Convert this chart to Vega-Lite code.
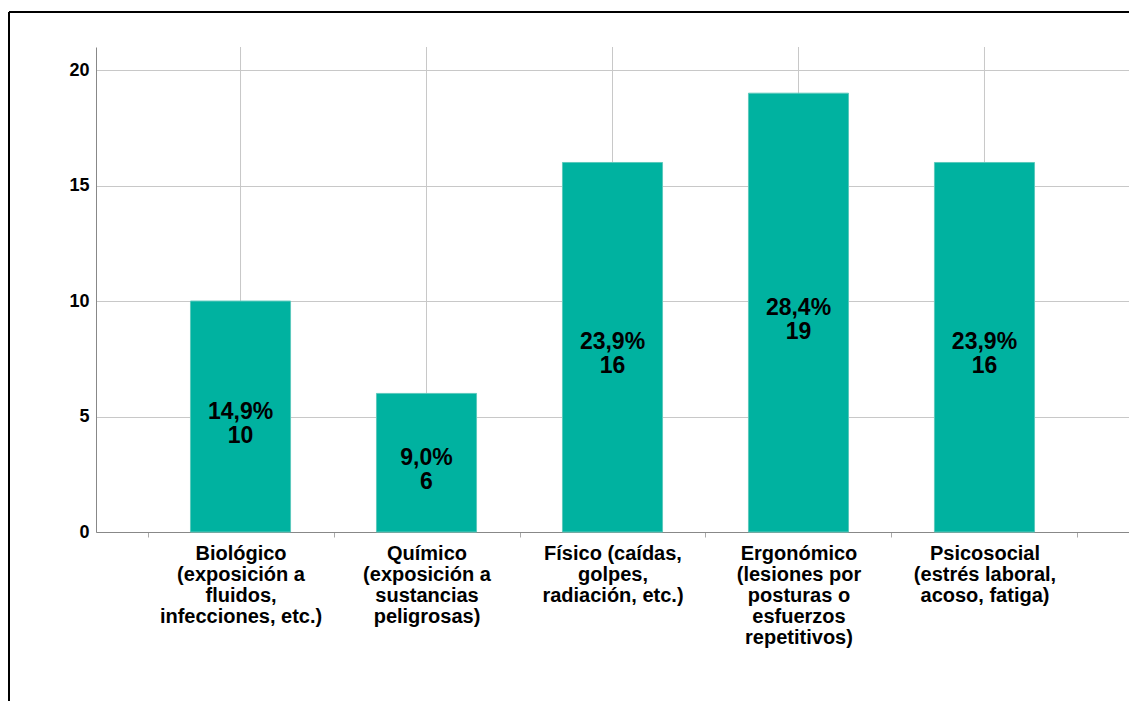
{
  "$schema": "https://vega.github.io/schema/vega-lite/v6.json",
  "width": 1120,
  "height": 689,
  "autosize": {"type": "none"},
  "padding": {"left": 9, "top": 12, "right": 0, "bottom": 0},
  "background": "white",
  "config": {
    "view": {"stroke": "#000000", "strokeWidth": 2, "strokeDash": [1120, 1809, 689, 0], "fill": "white"},
    "font": "Liberation Sans"
  },
  "data": {
    "values": [
      {"riesgo": "Biológico\n(exposición a\nfluidos,\ninfecciones, etc.)", "frecuencia": 10, "etiqueta": "14,9%\n10"},
      {"riesgo": "Químico\n(exposición a\nsustancias\npeligrosas)", "frecuencia": 6, "etiqueta": "9,0%\n6"},
      {"riesgo": "Físico (caídas,\ngolpes,\nradiación, etc.)", "frecuencia": 16, "etiqueta": "23,9%\n16"},
      {"riesgo": "Ergonómico\n(lesiones por\nposturas o\nesfuerzos\nrepetitivos)", "frecuencia": 19, "etiqueta": "28,4%\n19"},
      {"riesgo": "Psicosocial\n(estrés laboral,\nacoso, fatiga)", "frecuencia": 16, "etiqueta": "23,9%\n16"}
    ]
  },
  "layer": [
    {
      "mark": {"type": "rule", "color": "#c8c8c8", "strokeWidth": 1},
      "encoding": {
        "x": {"field": "riesgo", "type": "nominal", "sort": null},
        "y": {"datum": 21, "type": "quantitative", "scale": {"domain": [0, 21], "range": [520, 35], "nice": false}, "axis": null},
        "y2": {"datum": 0}
      }
    },
    {
      "mark": {"type": "bar", "color": "#00b2a0", "stroke": "#5cc9bc", "strokeWidth": 1, "width": {"band": 0.538}},
      "encoding": {
        "x": {
          "field": "riesgo", "type": "nominal", "sort": null,
          "scale": {"range": [87, 1120], "paddingInner": 0, "paddingOuter": 0.277},
          "axis": {
            "title": null, "offset": -169, "grid": false, "tickBand": "extent", "tickSize": 5,
            "tickColor": "#aaaaaa", "domainColor": "#888888",
            "labelExpr": "split(datum.label, '\\n')",
            "labelFontSize": 20, "labelFontWeight": "bold", "labelColor": "#000000",
            "labelLineHeight": 21, "labelPadding": 6, "labelAngle": 0, "labelLimit": 300,
            "labelAlign": "center",
            "labelOverlap": false, "labelBaseline": "top", "labelFont": "Liberation Sans"
          }
        },
        "y": {
          "field": "frecuencia", "type": "quantitative",
          "scale": {"domain": [0, 21], "range": [520, 35], "nice": false},
          "axis": {
            "values": [0, 5, 10, 15, 20], "title": null, "offset": -87, "ticks": false, "tickSize": 0,
            "labelPadding": 7, "labelFontSize": 18, "labelFontWeight": "bold", "labelColor": "#000000",
            "labelFont": "Liberation Sans", "labelFlush": false,
            "domainColor": "#888888", "grid": true, "gridColor": "#c8c8c8"
          }
        }
      }
    },
    {
      "mark": {"type": "text", "align": "center", "baseline": "middle", "fontSize": 23, "fontWeight": "bold", "lineBreak": "\n", "lineHeight": 24, "dy": -5, "color": "#000000", "font": "Liberation Sans"},
      "encoding": {
        "x": {"field": "riesgo", "type": "nominal", "sort": null},
        "y": {"field": "frecuencia", "type": "quantitative", "scale": {"domain": [0, 42], "range": [520, 35], "nice": false}, "axis": null},
        "text": {"field": "etiqueta", "type": "nominal"}
      }
    }
  ],
  "resolve": {"scale": {"y": "independent"}}
}
